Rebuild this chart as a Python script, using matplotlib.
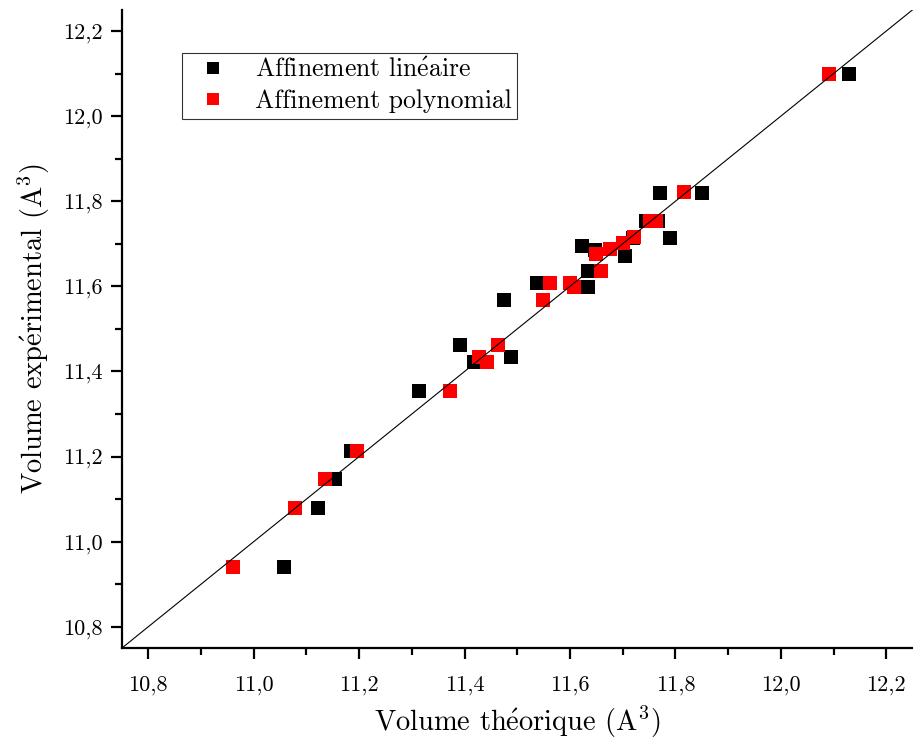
import numpy as np
import matplotlib
matplotlib.use('Agg')
import matplotlib.pyplot as plt
from matplotlib.ticker import MultipleLocator, FuncFormatter

#==============================================================================
#                         Data
#==============================================================================
# Affinement lineaire (black)
x_lin = [12.13, 11.85, 11.77, 11.745, 11.766, 11.79, 11.72, 11.622, 11.647,
         11.704, 11.634, 11.537, 11.634, 11.475, 11.392, 11.488, 11.418,
         11.314, 11.184, 11.155, 11.121, 11.057]
y_lin = [12.10, 11.82, 11.82, 11.753, 11.753, 11.713, 11.713, 11.694, 11.685,
         11.671, 11.635, 11.607, 11.598, 11.567, 11.461, 11.433, 11.421,
         11.355, 11.212, 11.148, 11.080, 10.941]

# Affinement polynomial (red)
x_poly = [12.091, 11.817, 11.751, 11.764, 11.721, 11.700, 11.675, 11.649,
          11.658, 11.562, 11.600, 11.607, 11.549, 11.464, 11.428, 11.443,
          11.373, 11.195, 11.135, 11.078, 10.961]
y_poly = [12.099, 11.821, 11.753, 11.753, 11.715, 11.701, 11.687, 11.675,
          11.635, 11.607, 11.607, 11.598, 11.567, 11.461, 11.433, 11.421,
          11.355, 11.212, 11.148, 11.080, 10.941]

lim = [10.75, 12.25]

#==============================================================================
#                         Plotting
#==============================================================================
plt.rcParams['mathtext.fontset'] = 'cm'
plt.rcParams['font.family'] = ['cmr10', 'DejaVu Serif']
plt.rcParams['axes.formatter.use_mathtext'] = True

fig = plt.figure(figsize=(9.13, 7.5), dpi=100)
ax = fig.add_axes([0.1336, 0.136, 0.866, 0.851])

ax.plot(x_lin, y_lin, 's', color='black', ms=10, mew=0,
        label=r'Affinement lin$\mathrm{\acute{e}}$aire', zorder=2)
ax.plot(x_poly, y_poly, 's', color='#ff0000', ms=10, mew=0,
        label='Affinement polynomial', zorder=3)
ax.plot(lim, lim, color='black', lw=0.8, zorder=4)

ax.set_xlim(lim)
ax.set_ylim(lim)

ax.spines['top'].set_visible(False)
ax.spines['right'].set_visible(False)
ax.spines['left'].set_linewidth(1.6)
ax.spines['bottom'].set_linewidth(1.6)

for axis in (ax.xaxis, ax.yaxis):
    axis.set_major_locator(MultipleLocator(0.2))
    axis.set_minor_locator(MultipleLocator(0.1))
    axis.set_major_formatter(FuncFormatter(lambda v, p: ('%.1f' % v).replace('.', ',')))
ax.tick_params(which='major', length=8, width=1.6, labelsize=16, direction='out')
ax.tick_params(which='minor', length=5, width=1.6, direction='out')
ax.tick_params(axis='x', which='major', pad=12)
ax.tick_params(axis='y', which='major', pad=6)

ax.set_xlabel(r'Volume th$\mathrm{\acute{e}}$orique (A$^3$)', fontsize=20.5, labelpad=6)
ax.set_ylabel(r'Volume exp$\mathrm{\acute{e}}$rimental (A$^3$)', fontsize=20.5, labelpad=8)

leg = ax.legend(loc='upper left', bbox_to_anchor=(0.076, 0.933), fontsize=18.5,
                frameon=True, fancybox=False, edgecolor='black',
                handlelength=2.0, handletextpad=0.65, borderpad=0.2, borderaxespad=0,
                labelspacing=0.3, markerscale=0.85)
leg.get_frame().set_linewidth(0.8)

plt.savefig('out.png', dpi=100)
